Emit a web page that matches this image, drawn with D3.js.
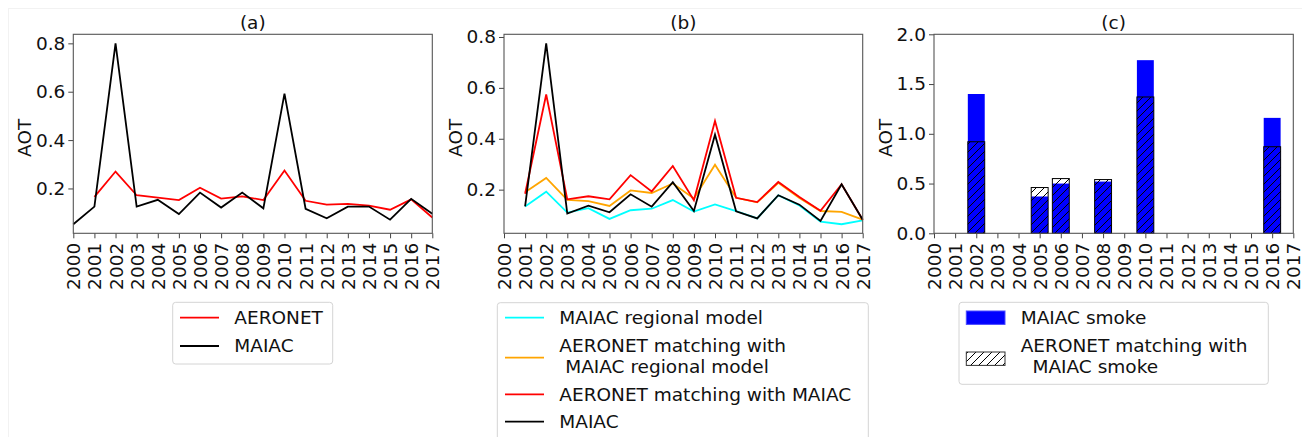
<!DOCTYPE html>
<html>
<head>
<meta charset="utf-8">
<script src="https://cdn.jsdelivr.net/npm/d3@7"></script>
<style>
  html, body { margin: 0; padding: 0; background: #fff; }
  svg { display: block; font-family: "DejaVu Sans", sans-serif; }
</style>
</head>
<body>
<svg id="fig" width="1302" height="437"></svg>
<script>
// ---- data ----
const tickYears = ["2000","2001","2002","2003","2004","2005","2006","2007","2008",
  "2009","2010","2011","2012","2013","2014","2015","2016","2017"];
const yearsAll = d3.range(2000, 2018);
const yearsFrom2001 = d3.range(2001, 2018);

// (a) annual mean AOT
const aAeronet = [0.165, 0.270, 0.172, 0.162, 0.152, 0.203, 0.158, 0.167, 0.152,
  0.274, 0.149, 0.133, 0.136, 0.129, 0.112, 0.155, 0.080];
const aMaiac = [0.052, 0.125, 0.800, 0.125, 0.153, 0.094, 0.183, 0.121, 0.183,
  0.118, 0.592, 0.116, 0.077, 0.125, 0.125, 0.071, 0.157, 0.095];

// (b) matched series, 2001-2017
const bMaiacRegional = [0.134, 0.192, 0.110, 0.127, 0.085, 0.119, 0.125, 0.159, 0.114,
  0.142, 0.116, 0.087, 0.178, 0.138, 0.074, 0.064, 0.079];
const bAeronetRegional = [0.190, 0.246, 0.160, 0.155, 0.136, 0.197, 0.187, 0.224, 0.165,
  0.298, 0.168, 0.150, 0.227, 0.167, 0.116, 0.113, 0.082];
const bAeronetMaiac = [0.184, 0.574, 0.162, 0.174, 0.162, 0.257, 0.193, 0.293, 0.158,
  0.470, 0.168, 0.151, 0.230, 0.171, 0.117, 0.221, 0.082];
const bMaiac = [0.134, 0.775, 0.106, 0.137, 0.111, 0.182, 0.133, 0.229, 0.116,
  0.416, 0.115, 0.087, 0.178, 0.141, 0.077, 0.221, 0.082];

// (c) smoke years
const smokeYears = [2002, 2005, 2006, 2008, 2010, 2016];
const maiacSmoke = [1.40, 0.37, 0.50, 0.52, 1.74, 1.16];
const aeronetSmoke = [0.92, 0.46, 0.55, 0.54, 1.37, 0.87];

const yTicksLine = [0.2, 0.4, 0.6, 0.8];
const yTicksBar = [0.0, 0.5, 1.0, 1.5, 2.0];

// ---- layout ----
const FS = 18.5;
const TOP = 34.3, BOTTOM = 233.3;
const panels = [
  { left: 73.3, right: 432.3, title: "(a)" },
  { left: 504, right: 862.7, title: "(b)" },
  { left: 934, right: 1293.3, title: "(c)" }
];

const svg = d3.select("#fig");

// faint figure frame
svg.append("rect").attr("x", 8.5).attr("y", 8.5).attr("width", 1300).attr("height", 440)
  .attr("fill", "none").attr("stroke", "#f2f2f2").attr("stroke-width", 1);

// hatch pattern for the AERONET bars
const defs = svg.append("defs");
const pat = defs.append("pattern").attr("id", "hatch")
  .attr("patternUnits", "userSpaceOnUse").attr("width", 8).attr("height", 8);
pat.append("path").attr("d", "M-2,2 L2,-2 M0,8 L8,0 M6,10 L10,6")
  .attr("stroke", "#000").attr("stroke-width", 1);

function paddedDomain(arrays) {
  const all = arrays.flat();
  const lo = d3.min(all), hi = d3.max(all);
  const m = (hi - lo) * 0.05;
  return [lo - m, hi + m];
}

function drawFrame(p, y, yTicks, fmt) {
  const x = d3.scaleLinear().domain([2000, 2017]).range([p.left, p.right]);
  const g = svg.append("g");
  // y axis
  const yAxis = d3.axisLeft(y).tickValues(yTicks).tickFormat(fmt).tickSize(5).tickPadding(3);
  const ya = g.append("g").attr("transform", `translate(${p.left},0)`).call(yAxis);
  ya.select(".domain").remove();
  ya.selectAll("line").attr("stroke", "#444");
  ya.selectAll("text").attr("font-size", FS).attr("fill", "#111")
    .attr("font-family", "DejaVu Sans, sans-serif");
  // x axis with vertical year labels
  const xAxis = d3.axisBottom(x).tickValues(yearsAll).tickFormat((d, i) => tickYears[i]).tickSize(5);
  const xa = g.append("g").attr("transform", `translate(0,${BOTTOM})`).call(xAxis);
  xa.select(".domain").remove();
  xa.selectAll("line").attr("stroke", "#444");
  xa.selectAll("text")
    .attr("font-size", FS).attr("fill", "#111").attr("font-family", "DejaVu Sans, sans-serif")
    .attr("text-anchor", "end").attr("y", 0).attr("dy", "0.35em")
    .attr("transform", "translate(0,9.5) rotate(-90)");
  // title and y label
  g.append("text").attr("x", (p.left + p.right) / 2).attr("y", 29)
    .attr("text-anchor", "middle").attr("font-size", FS).attr("fill", "#111").text(p.title);
  g.append("text")
    .attr("transform", `translate(${p.left - 48.5},${(TOP + BOTTOM) / 2 + 4}) rotate(-90)`)
    .attr("text-anchor", "middle").attr("dy", "0.35em")
    .attr("font-size", FS).attr("fill", "#111").text("AOT");
  return { x, g };
}

function drawSpines(p) {
  svg.append("rect").attr("x", p.left).attr("y", TOP)
    .attr("width", p.right - p.left).attr("height", BOTTOM - TOP)
    .attr("fill", "none").attr("stroke", "#555").attr("stroke-width", 1.1);
}

function drawLine(g, x, y, years, vals, color) {
  const line = d3.line().x((d, i) => x(years[i])).y(d => y(d));
  g.append("path").datum(vals).attr("d", line)
    .attr("fill", "none").attr("stroke", color).attr("stroke-width", 1.8)
    .attr("stroke-linejoin", "miter");
}

function drawLegend(box, rows) {
  const g = svg.append("g");
  g.append("rect").attr("x", box.x).attr("y", box.y).attr("width", box.w).attr("height", box.h)
    .attr("rx", 3).attr("fill", "#fff").attr("fill-opacity", 0.8)
    .attr("stroke", "#d4d4d4").attr("stroke-width", 1);
  rows.forEach(r => {
    if (r.type === "line") {
      g.append("line").attr("x1", box.hx).attr("x2", box.hx + 39)
        .attr("y1", r.cy).attr("y2", r.cy).attr("stroke", r.color).attr("stroke-width", 1.8);
    } else {
      g.append("rect").attr("x", box.hx).attr("y", r.cy - 6.7).attr("width", 38.7).attr("height", 13.4)
        .attr("fill", r.fill).attr("stroke", r.stroke).attr("stroke-width", 1);
    }
    r.lines.forEach((t, k) => {
      g.append("text").attr("x", box.tx).attr("y", r.ty + k * 20.7).attr("dy", "0.35em")
        .attr("font-size", FS).attr("fill", "#111").attr("xml:space", "preserve")
        .style("white-space", "pre").text(t);
    });
  });
}

// ---- panel (a) ----
{
  const p = panels[0];
  const y = d3.scaleLinear().domain(paddedDomain([aAeronet, aMaiac])).range([BOTTOM, TOP]);
  const { x, g } = drawFrame(p, y, yTicksLine, d3.format(".1f"));
  drawLine(g, x, y, yearsFrom2001, aAeronet, "#ff0000");
  drawLine(g, x, y, yearsAll, aMaiac, "#000000");
  drawSpines(p);
  drawLegend({ x: 172.7, y: 302.3, w: 160, h: 61.7, hx: 180, tx: 234.3 }, [
    { type: "line", color: "#ff0000", cy: 317.7, ty: 317.7, lines: ["AERONET"] },
    { type: "line", color: "#000000", cy: 346, ty: 346, lines: ["MAIAC"] }
  ]);
}

// ---- panel (b) ----
{
  const p = panels[1];
  const y = d3.scaleLinear()
    .domain(paddedDomain([bMaiacRegional, bAeronetRegional, bAeronetMaiac, bMaiac]))
    .range([BOTTOM, TOP]);
  const { x, g } = drawFrame(p, y, yTicksLine, d3.format(".1f"));
  drawLine(g, x, y, yearsFrom2001, bMaiacRegional, "#00ffff");
  drawLine(g, x, y, yearsFrom2001, bAeronetRegional, "#ffa500");
  drawLine(g, x, y, yearsFrom2001, bAeronetMaiac, "#ff0000");
  drawLine(g, x, y, yearsFrom2001, bMaiac, "#000000");
  drawSpines(p);
  drawLegend({ x: 497.3, y: 302.7, w: 371, h: 150, hx: 505, tx: 559.3 }, [
    { type: "line", color: "#00ffff", cy: 317.7, ty: 317.7, lines: ["MAIAC regional model"] },
    { type: "line", color: "#ffa500", cy: 357.7, ty: 346, lines: ["AERONET matching with", " MAIAC regional model"] },
    { type: "line", color: "#ff0000", cy: 394.3, ty: 394.3, lines: ["AERONET matching with MAIAC"] },
    { type: "line", color: "#000000", cy: 421.7, ty: 421.7, lines: ["MAIAC"] }
  ]);
}

// ---- panel (c) ----
{
  const p = panels[2];
  const y = d3.scaleLinear().domain([0, 2]).range([BOTTOM, TOP]);
  const { x, g } = drawFrame(p, y, yTicksBar, d3.format(".1f"));
  const bw = (x(1) - x(0)) * 0.8;
  g.selectAll("rect.maiac").data(smokeYears).join("rect").attr("class", "maiac")
    .attr("x", d => x(d) - bw / 2).attr("width", bw)
    .attr("y", (d, i) => y(maiacSmoke[i])).attr("height", (d, i) => y(0) - y(maiacSmoke[i]))
    .attr("fill", "#0000ff");
  g.selectAll("rect.aeronet").data(smokeYears).join("rect").attr("class", "aeronet")
    .attr("x", d => x(d) - bw / 2).attr("width", bw)
    .attr("y", (d, i) => y(aeronetSmoke[i])).attr("height", (d, i) => y(0) - y(aeronetSmoke[i]))
    .attr("fill", "url(#hatch)").attr("stroke", "#000").attr("stroke-width", 1);
  drawSpines(p);
  drawLegend({ x: 959, y: 302.3, w: 309.3, h: 82, hx: 966.3, tx: 1020.7 }, [
    { type: "patch", fill: "#0000ff", stroke: "#4a4aff", cy: 317.7, ty: 317.7, lines: ["MAIAC smoke"] },
    { type: "patch", fill: "url(#hatch)", stroke: "#333", cy: 358.7, ty: 346, lines: ["AERONET matching with", "  MAIAC smoke"] }
  ]);
}
</script>
</body>
</html>
